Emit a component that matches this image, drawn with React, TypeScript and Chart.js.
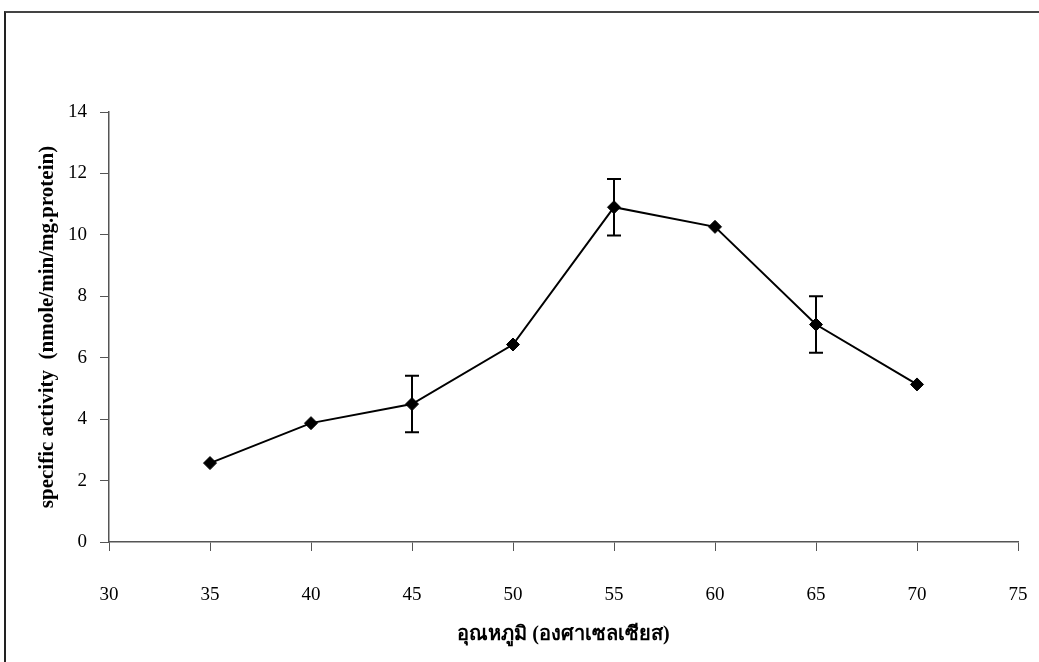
import React, { useEffect, useRef } from "react";
import { Chart, registerables } from "chart.js";

Chart.register(...registerables);

// Temperature (°C) and measured specific activity with standard deviation
const temperatures = [35, 40, 45, 50, 55, 60, 65, 70];
const activity = [2.57, 3.87, 4.49, 6.43, 10.9, 10.26, 7.08, 5.13];
const errors = [0, 0, 0.92, 0, 0.92, 0, 0.92, 0];

const xTitle = "อุณหภูมิ (องศาเซลเซียส)";
const yTitle = "specific activity  (nmole/min/mg.protein)";

const serif = '"Liberation Serif", "Times New Roman", "DejaVu Serif", serif';

// Draws vertical error bars with caps for each point that has a deviation
const errorBarPlugin = {
  id: "errorBars",
  afterDatasetsDraw(chart: any) {
    const { ctx, scales } = chart;
    const xs = scales.x;
    const ys = scales.y;
    ctx.save();
    ctx.strokeStyle = "#000";
    ctx.lineWidth = 2;
    temperatures.forEach((t, i) => {
      const e = errors[i];
      if (!e) return;
      const x = xs.getPixelForValue(t);
      const yTop = ys.getPixelForValue(activity[i] + e);
      const yBot = ys.getPixelForValue(activity[i] - e);
      const cap = 7;
      ctx.beginPath();
      ctx.moveTo(x, yTop);
      ctx.lineTo(x, yBot);
      ctx.moveTo(x - cap, yTop);
      ctx.lineTo(x + cap, yTop);
      ctx.moveTo(x - cap, yBot);
      ctx.lineTo(x + cap, yBot);
      ctx.stroke();
    });
    ctx.restore();
  },
};

export default function App() {
  const canvasRef = useRef<HTMLCanvasElement | null>(null);

  useEffect(() => {
    if (!canvasRef.current) return;
    const chart = new Chart(canvasRef.current, {
      type: "line",
      data: {
        datasets: [
          {
            data: temperatures.map((t, i) => ({ x: t, y: activity[i] })),
            borderColor: "#000",
            borderWidth: 2,
            backgroundColor: "#000",
            pointStyle: "rectRot",
            pointRadius: 6.5,
            pointBorderWidth: 1,
            pointBackgroundColor: "#000",
            pointBorderColor: "#000",
            tension: 0,
          },
        ],
      },
      options: {
        responsive: false,
        animation: false,
        layout: { padding: { left: 0, right: 21, top: 112, bottom: 0 } },
        plugins: {
          legend: { display: false },
          tooltip: { enabled: false },
        },
        scales: {
          x: {
            type: "linear",
            min: 30,
            max: 75,
            afterFit(scale: any) {
              scale.height = 120;
              scale.paddingLeft = 0;
              scale.paddingRight = 0;
            },
            ticks: {
              stepSize: 5,
              color: "#000",
              padding: 33,
              maxRotation: 0,
              font: { family: serif, size: 19 },
            },
            grid: {
              drawOnChartArea: false,
              drawTicks: true,
              tickLength: 9,
              color: "#555",
            },
            border: { color: "#555", width: 1.5 },
            title: {
              display: true,
              text: xTitle,
              color: "#000",
              font: { family: serif, size: 20, weight: "bold" },
              padding: { top: 0, bottom: 15 },
            },
          },
          y: {
            min: 0,
            max: 14,
            afterFit(scale: any) {
              scale.width = 109;
              scale.paddingTop = 0;
              scale.paddingBottom = 0;
            },
            ticks: {
              stepSize: 2,
              color: "#000",
              padding: 13,
              font: { family: serif, size: 19 },
            },
            grid: {
              drawOnChartArea: false,
              drawTicks: true,
              tickLength: 9,
              color: "#555",
            },
            border: { color: "#555", width: 1.5 },
            title: {
              display: true,
              text: yTitle,
              color: "#000",
              font: { family: serif, size: 21, weight: "bold" },
              padding: { top: 35, bottom: 0 },
            },
          },
        },
      },
      plugins: [errorBarPlugin],
    });
    return () => chart.destroy();
  }, []);

  return (
    <div
      style={{
        position: "absolute",
        left: 0,
        top: 0,
        width: 1039,
        height: 662,
        overflow: "hidden",
        background: "#fff",
      }}
    >
      <canvas ref={canvasRef} width={1039} height={662} style={{ display: "block" }} />
      <div
        style={{
          position: "absolute",
          left: 4,
          top: 11,
          width: 1200,
          height: 800,
          borderLeft: "2px solid #222",
          borderTop: "2px solid #444",
          pointerEvents: "none",
        }}
      />
    </div>
  );
}
